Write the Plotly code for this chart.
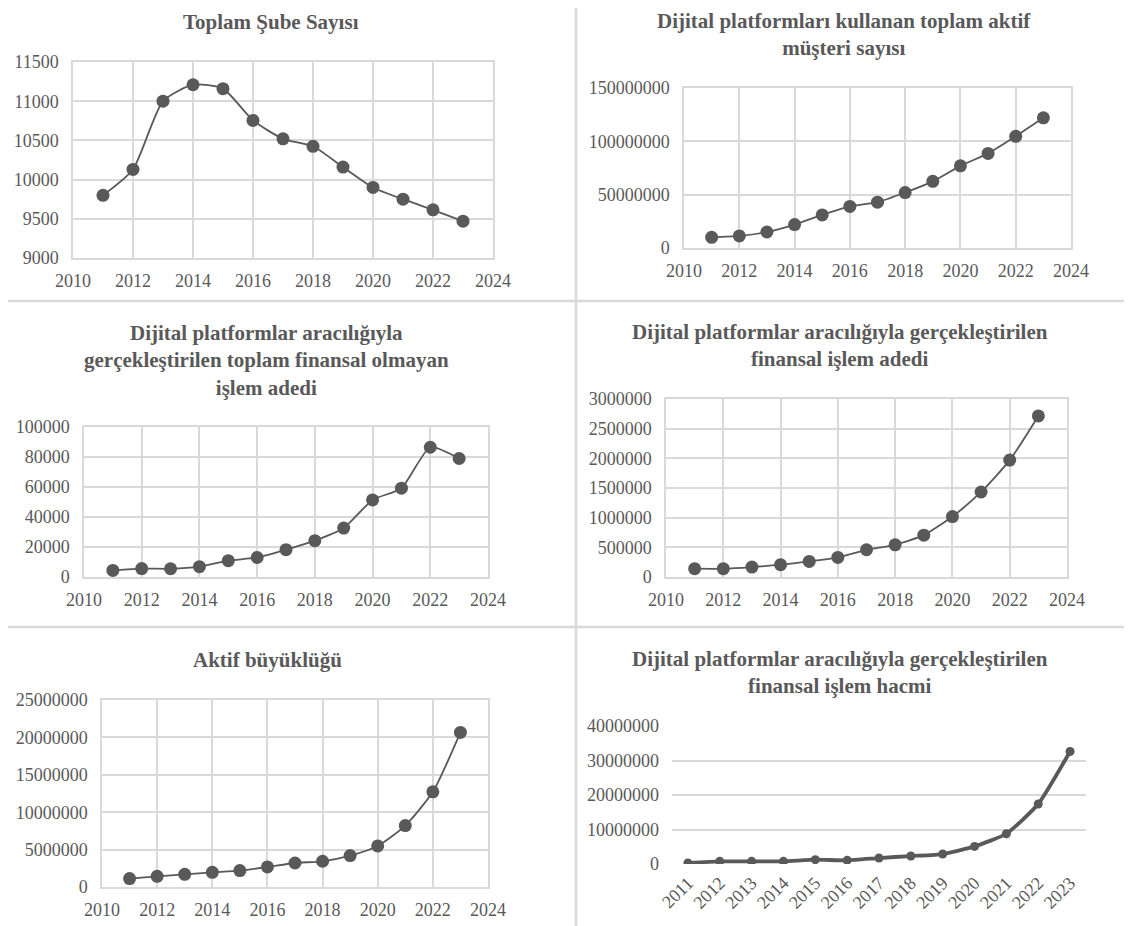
import plotly.graph_objects as go

# the page puts the figure 8px in from the top-left corner
OFF = 8
W, H = 1132 - OFF, 926 - OFF

years = list(range(2011, 2024))
year_labels = [str(y) for y in years]

sube_sayisi = [9800, 10130, 11000, 11210, 11160, 10755, 10520, 10425, 10160,
               9900, 9750, 9615, 9470]
aktif_musteri = [10000000, 11300000, 15000000, 22000000, 31000000, 39000000,
                 43000000, 52000000, 62500000, 77000000, 88700000, 104700000,
                 122000000]
finansal_olmayan = [4400, 5600, 5500, 6900, 10900, 13000, 18200, 24200, 32600,
                    51400, 59200, 86500, 79000]
finansal_adet = [140000, 140000, 168000, 207000, 263000, 330000, 459000,
                 543000, 705000, 1019000, 1433000, 1970000, 2715000]
aktif_buyukluk = [1120000, 1430000, 1700000, 1960000, 2190000, 2680000,
                  3210000, 3440000, 4200000, 5490000, 8210000, 12720000,
                  20670000]
finansal_hacim = [290000, 770000, 770000, 770000, 1250000, 1060000, 1730000,
                  2310000, 2890000, 5100000, 8770000, 17400000, 32600000]

GREY = "#595959"
GRID = "#d9d9d9"
FONT = "Liberation Serif, Times New Roman, serif"
TICK = dict(family=FONT, size=18, color=GREY)
TITLE = dict(family=FONT, size=21, color=GREY)


def px(x):
    return (x - OFF) / W


def py(y):
    return 1 - (y - OFF) / H


def xd(a, b):
    return [px(a), px(b)]


def yd(top, bottom):
    return [py(bottom), py(top)]


panels = [
    # title, values, x px, y px, y range, dtick, title centre
    ("Toplam Şube Sayısı", sube_sayisi, (73, 493), (62, 258), [9000, 11500], 500, 271, 22),
    ("Dijital platformları kullanan toplam aktif<br>müşteri sayısı", aktif_musteri,
     (684, 1071), (88, 248), [0, 150000000], 50000000, 844, 34),
    ("Dijital platformlar aracılığıyla<br>gerçekleştirilen toplam finansal olmayan<br>işlem adedi",
     finansal_olmayan, (84, 488), (427, 577), [0, 100000], 20000, 266, 360),
    ("Dijital platformlar aracılığıyla gerçekleştirilen<br>finansal işlem adedi", finansal_adet,
     (666, 1067), (399, 577), [0, 3000000], 500000, 840, 346),
    ("Aktif büyüklüğü", aktif_buyukluk, (102, 488), (700, 887), [0, 25000000], 5000000, 267, 660),
]

fig = go.Figure()
layout = {}

for i, (title, vals, (x0, x1), (y0, y1), yr, dt, tx, ty) in enumerate(panels, start=1):
    sfx = "" if i == 1 else str(i)
    fig.add_trace(go.Scatter(
        x=years, y=vals, mode="lines+markers",
        line=dict(color=GREY, width=1.8, shape="spline", smoothing=0.6),
        marker=dict(color=GREY, size=13),
        xaxis="x" + sfx, yaxis="y" + sfx, showlegend=False,
    ))
    layout["xaxis" + sfx] = dict(
        domain=xd(x0, x1), range=[2010, 2024], dtick=2, tick0=2010,
        anchor="y" + sfx, showgrid=True, gridcolor=GRID, gridwidth=1.5,
        showline=True, linecolor=GRID, linewidth=1.5, mirror=True,
        zeroline=False, ticks="", tickfont=TICK, automargin=False,
        ticklabelstandoff=6,
    )
    layout["yaxis" + sfx] = dict(
        domain=yd(y0, y1), range=yr, dtick=dt, anchor="x" + sfx,
        showgrid=True, gridcolor=GRID, gridwidth=1.5,
        showline=True, linecolor=GRID, linewidth=1.5, mirror=True,
        zeroline=False, ticks="", tickformat="d", tickfont=TICK, automargin=False,
        ticklabelstandoff=9,
    )
    fig.add_annotation(
        text="<b>" + title + "</b>", x=px(tx), y=py(ty), xref="paper", yref="paper",
        showarrow=False, font=TITLE, xanchor="center", yanchor="middle", align="center",
    )

# sixth panel: categorical axis, rotated labels, thick line
fig.add_trace(go.Scatter(
    x=year_labels, y=finansal_hacim, mode="lines+markers",
    line=dict(color=GREY, width=3.8, shape="spline", smoothing=0.5),
    marker=dict(color=GREY, size=9),
    xaxis="x6", yaxis="y6", showlegend=False,
))
layout["xaxis6"] = dict(
    domain=xd(672, 1086), type="category", range=[-0.5, 12.5], anchor="y6",
    showgrid=False, showline=False, zeroline=False, ticks="", tickangle=-45,
    tickfont=TICK, automargin=False, ticklabelstandoff=4,
)
layout["yaxis6"] = dict(
    domain=yd(726, 864), range=[0, 40000000], dtick=10000000, anchor="x6",
    showgrid=True, gridcolor=GRID, gridwidth=1.5, showline=False, zeroline=False,
    ticks="", tickformat="d", tickfont=TICK, automargin=False, ticklabelstandoff=12,
)
fig.add_annotation(
    text="<b>Dijital platformlar aracılığıyla gerçekleştirilen<br>finansal işlem hacmi</b>",
    x=px(840), y=py(672), xref="paper", yref="paper", showarrow=False,
    font=TITLE, xanchor="center", yanchor="middle", align="center",
)

# panel separators
for (ax0, ay0, ax1, ay1) in [(576, 8, 576, 926), (8, 301, 1132, 301), (8, 627, 1132, 627)]:
    fig.add_shape(type="line", xref="paper", yref="paper",
                  x0=px(ax0), x1=px(ax1), y0=py(ay0), y1=py(ay1),
                  line=dict(color=GRID, width=2.5))

fig.update_layout(
    **layout,
    width=W, height=H, margin=dict(l=0, r=0, t=0, b=0, autoexpand=False),
    plot_bgcolor="white", paper_bgcolor="white",
    font=dict(family=FONT, color=GREY),
)

fig.write_html("out.html")
